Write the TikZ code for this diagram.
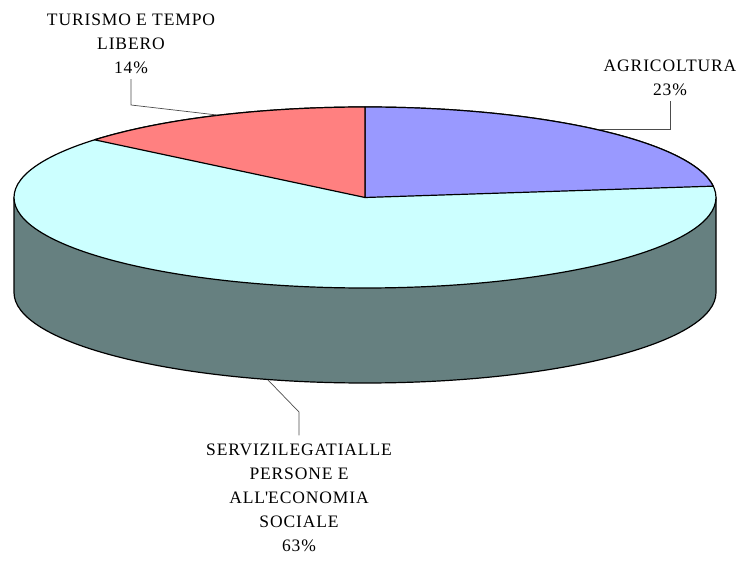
\documentclass[tikz,border=0pt]{standalone}
\usepackage{xcolor}
\usepackage{fontspec}
\setmainfont{Liberation Serif}
\usepackage{tikz}
\usetikzlibrary{shapes,arrows,positioning,calc}
\definecolor{agricol}{RGB}{153,153,255}
\definecolor{turcol}{RGB}{255,128,128}
\definecolor{sercol}{RGB}{204,255,255}
\definecolor{sideside}{RGB}{102,128,128}

\begin{document}
\begin{tikzpicture}[x=1pt,y=1pt,
    slice/.style={draw=black, line width=1.2pt, line join=round},
    lbl/.style={align=center, inner sep=0pt, font=\fontsize{17.5}{24}\selectfont\addfontfeature{LetterSpace=5}},
    leader/.style={draw=black!70, line width=0.7pt}]
    \useasboundingbox (0,0) rectangle (742,560);
    % side of the pie
    \fill[sideside] (716,362.5) -- (716,267.5) arc (0:-180:351 and 90.5) -- (14,362.5) arc (180:360:351 and 90.5) -- cycle;
    \draw[slice] (716,362.5) -- (716,267.5) arc (0:-180:351 and 90.5) -- (14,362.5);
    % top
    \coordinate (c) at (365,362.5);
    \draw[slice, fill=sercol] (c) ellipse (351 and 90.5);
    \draw[slice, fill=agricol] (c) -- ++(0,90.5) arc (90:7.2:351 and 90.5) -- cycle;
    \draw[slice, fill=turcol] (c) -- ++(0,90.5) arc (90:140.4:351 and 90.5) -- cycle;
    % labels
    \node[lbl] (agrilbl) at (670,482) {AGRICOLTURA\\23\%};
    \node[lbl] (turlbl) at (131,516) {TURISMO E TEMPO\\LIBERO\\14\%};
    \node[lbl] (serlbl) at (299,62.5) {SERVIZILEGATIALLE\\PERSONE E\\ALL\textquotesingle ECONOMIA\\SOCIALE\\63\%};
    \coordinate (agriedge) at (600,431);
    \coordinate (turbend) at (131,455);
    \coordinate (turedge) at (217,445);
    \coordinate (serbend) at (299,148);
    \coordinate (seredge) at (268,180);
    \draw[leader] ([yshift=-5pt]agrilbl.south) |- (agriedge);
    \draw[leader] ([yshift=-5pt]turlbl.south) -- (turbend) -- (turedge);
    \draw[leader] ([yshift=8pt]serlbl.north) -- (serbend) -- (seredge);
\end{tikzpicture}
\end{document}
